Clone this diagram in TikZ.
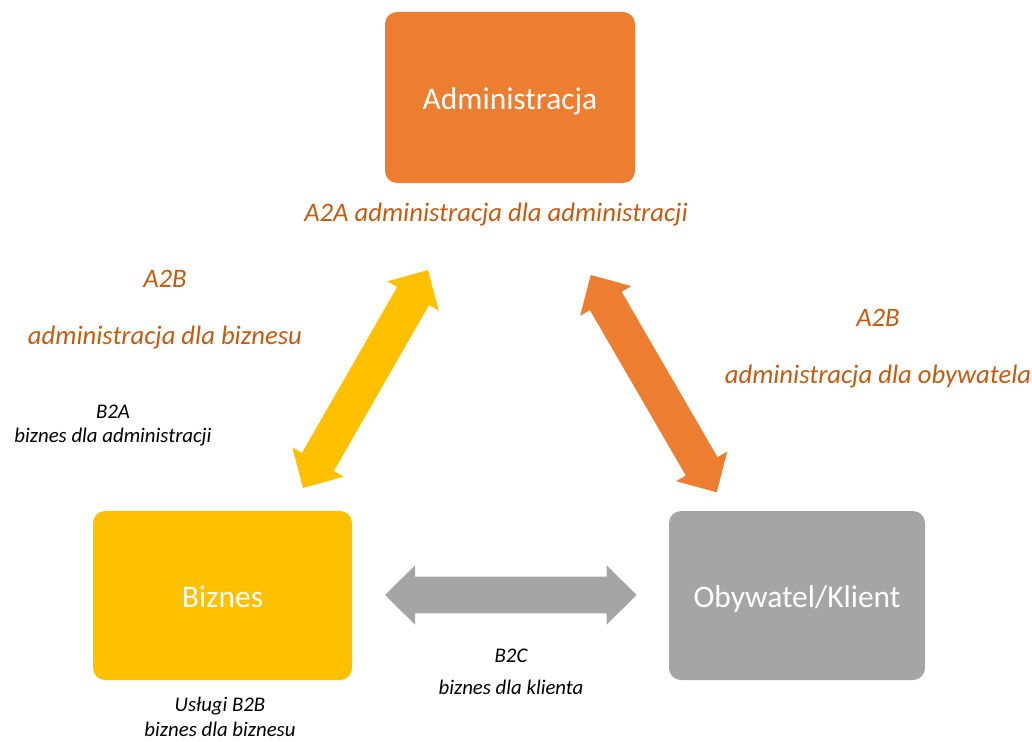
\documentclass[tikz,border=0pt]{standalone}
\usepackage{fontspec}
\setmainfont{Carlito}
\usetikzlibrary{calc}
\definecolor{admorange}{HTML}{ED7D31}
\definecolor{bizyellow}{HTML}{FFC000}
\definecolor{citgray}{HTML}{A5A5A5}
\definecolor{labelorange}{HTML}{C55A11}
% block double arrow between two tip coordinates
\newcommand\headlen{22.5pt}
\newcommand\headhw{22.2pt}
\newcommand\shafthw{13.75pt}
\newcommand\blockarrow[3]{%
  \coordinate (#1-b) at ($(#1)!\headlen!(#2)$);
  \coordinate (#2-b) at ($(#2)!\headlen!(#1)$);
  \fill[#3] (#1)
    -- ($(#1-b)!\headhw!90:(#2)$) -- ($(#1-b)!\shafthw!90:(#2)$)
    -- ($(#2-b)!\shafthw!-90:(#1)$) -- ($(#2-b)!\headhw!-90:(#1)$)
    -- (#2)
    -- ($(#2-b)!\headhw!90:(#1)$) -- ($(#2-b)!\shafthw!90:(#1)$)
    -- ($(#1-b)!\shafthw!-90:(#2)$) -- ($(#1-b)!\headhw!-90:(#2)$)
    -- cycle;}
\tikzset{
  party/.style={rectangle, rounded corners=9pt, text=white, inner sep=0pt,
    text height=22pt, text depth=4.7pt,
    font=\fontsize{23.6pt}{28pt}\selectfont},
  biglabel/.style={text=labelorange, inner sep=0pt,
    font=\fontsize{20pt}{24pt}\selectfont\itshape},
  smalllabel/.style={text=black, inner sep=0pt,
    font=\fontsize{15.6pt}{18pt}\selectfont\itshape},
}
\begin{document}
\begin{tikzpicture}[x=0.75pt, y=-0.75pt]
\useasboundingbox (0,0) rectangle (1032,742);

% the three parties
\node[party, fill=admorange, minimum width=187.5pt, minimum height=128.25pt]
  (adm) at (510,97.5) {Administracja};
\node[party, fill=bizyellow, minimum width=194.25pt, minimum height=126.75pt]
  (biz) at (222.5,595.5) {Biznes};
\node[party, fill=citgray, minimum width=192pt, minimum height=126.75pt]
  (cit) at (797,595.5) {Obywatel/Klient};

% arrow tips
\coordinate (yA) at (303,488);
\coordinate (yB) at (428,270);
\coordinate (oA) at (590.7,275);
\coordinate (oB) at (716.7,492.3);
\coordinate (gA) at (385,595);
\coordinate (gB) at (636.7,595);

\blockarrow{yA}{yB}{bizyellow}
\blockarrow{oA}{oB}{admorange}
\blockarrow{gA}{gB}{citgray}

% labels
\node[biglabel] (a2a) at (496,215) {A2A administracja dla administracji};
\node[biglabel] (a2bl) at (165,279) {A2B};
\node[biglabel] (a2blt) at (165,338) {administracja dla biznesu};
\node[biglabel] (a2br) at (878,318) {A2B};
\node[biglabel] (a2brt) at (878,377) {administracja dla obywatela};

\node[smalllabel] (b2a) at (113,412) {B2A};
\node[smalllabel] (b2at) at (113,437) {biznes dla administracji};
\node[smalllabel] (b2b) at (220,706) {Usługi B2B};
\node[smalllabel] (b2bt) at (220,729.5) {biznes dla biznesu};
\node[smalllabel] (b2c) at (511,656) {B2C};
\node[smalllabel] (b2ct) at (511,687) {biznes dla klienta};
\end{tikzpicture}
\end{document}
